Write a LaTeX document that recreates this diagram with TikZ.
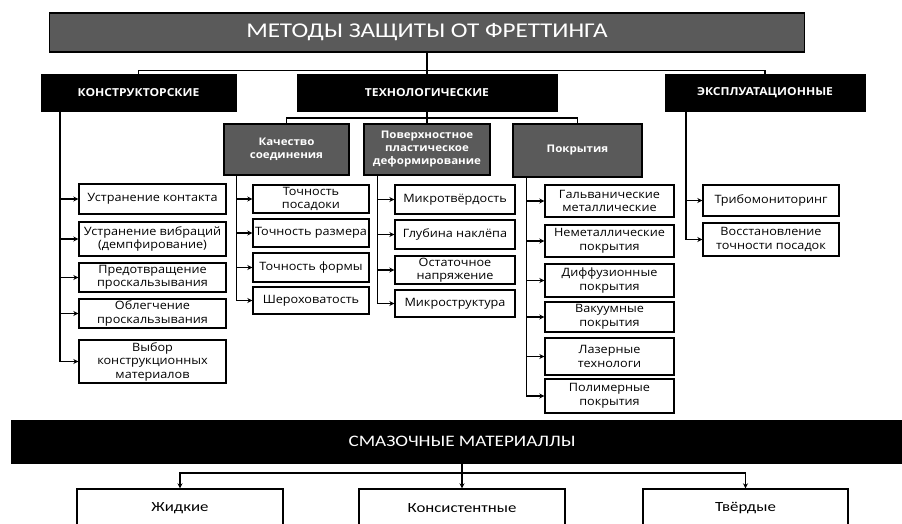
\documentclass[tikz,border=0pt]{standalone}
\usepackage{fontspec}
\setmainfont[FakeStretch=1.1]{Open Sans}
\newfontfamily\capfont[FakeStretch=1.2]{Carlito}
\usepackage{tikz}
\usetikzlibrary{arrows.meta,positioning,calc}
\definecolor{hdgray}{HTML}{5A5A5A}

\begin{document}
\begin{tikzpicture}[x=1pt, y=-1pt,
    title/.style={draw, line width=1.2pt, fill=hdgray, text=white, inner sep=0pt, font=\capfont\fontsize{21}{24}\selectfont},
    head/.style={draw, fill=black, text=white, inner sep=0pt, minimum height=37pt, font=\bfseries\fontsize{11}{13}\selectfont},
    sub/.style={draw, line width=1.2pt, fill=hdgray, text=white, align=center, inner sep=0pt, minimum height=51pt, font=\bfseries\fontsize{10.5}{13}\selectfont},
    leaf/.style={draw, line width=1.4pt, fill=white, align=center, inner sep=0pt, font=\fontsize{11.5}{13.5}\selectfont},
    lube/.style={draw, line width=1.4pt, fill=white, inner sep=0pt, minimum width=206pt, minimum height=38pt, font=\capfont\fontsize{14}{16}\selectfont},
    conn/.style={line width=1.5pt},
    arr/.style={-{Stealth[length=5pt,width=5pt]}, line width=1.5pt}
]
\useasboundingbox (0,0) rectangle (902,524);

% заголовок и три группы
\node[title, minimum width=755pt, minimum height=39pt] (title) at (427,32.5) {МЕТОДЫ ЗАЩИТЫ ОТ ФРЕТТИНГА};
\node[head, minimum width=195pt] (kon) at (138.5,93) {КОНСТРУКТОРСКИЕ};
\node[head, minimum width=260pt] (tech) at (427,92.5) {ТЕХНОЛОГИЧЕСКИЕ};
\node[head, minimum width=200pt] (expl) at (765,92.5) {ЭКСПЛУАТАЦИОННЫЕ};

\node[sub, minimum width=125pt] (kach) at (286.5,149.5) {Качество\\соединения};
\node[sub, minimum width=126pt] (pov) at (427,149.5) {Поверхностное\\пластическое\\деформирование};
\node[sub, minimum width=129pt, minimum height=53pt] (pokr) at (577.5,150.5) {Покрытия};

% конструкторские
\node[leaf, minimum width=147pt, minimum height=30pt] (k1) at (152.5,199) {Устранение контакта};
\node[leaf, minimum width=147pt, minimum height=34pt] (k2) at (152.5,239) {Устранение вибраций\\(демпфирование)};
\node[leaf, minimum width=147pt, minimum height=29pt] (k3) at (152.5,277.5) {Предотвращение\\проскальзывания};
\node[leaf, minimum width=147pt, minimum height=29pt] (k4) at (152.5,313.5) {Облегчение\\проскальзывания};
\node[leaf, minimum width=147pt, minimum height=43pt] (k5) at (152.5,361.5) {Выбор\\конструкционных\\материалов};

% качество соединения
\node[leaf, minimum width=116pt, minimum height=28pt] (q1) at (311,199) {Точность\\посадоки};
\node[leaf, minimum width=116pt, minimum height=28pt] (q2) at (311,233) {Точность размера};
\node[leaf, minimum width=116pt, minimum height=29pt] (q3) at (311,267.5) {Точность формы};
\node[leaf, minimum width=116pt, minimum height=27pt] (q4) at (311,300.5) {Шероховатость};

% поверхностное деформирование
\node[leaf, minimum width=120pt, minimum height=29pt] (p1) at (455,199.5) {Микротвёрдость};
\node[leaf, minimum width=120pt, minimum height=29pt] (p2) at (455,234.5) {Глубина наклёпа};
\node[leaf, minimum width=120pt, minimum height=28pt] (p3) at (455,270) {Остаточное\\напряжение};
\node[leaf, minimum width=120pt, minimum height=27pt] (p4) at (455,303.5) {Микроструктура};

% покрытия
\node[leaf, minimum width=129pt, minimum height=32pt] (c1) at (609.5,201) {Гальванические\\металлические};
\node[leaf, minimum width=129pt, minimum height=32pt] (c2) at (609.5,241) {Неметаллические\\покрытия};
\node[leaf, minimum width=129pt, minimum height=33pt] (c3) at (609.5,280.5) {Диффузионные\\покрытия};
\node[leaf, minimum width=129pt, minimum height=30pt] (c4) at (609.5,317) {Вакуумные\\покрытия};
\node[leaf, minimum width=129pt, minimum height=37pt] (c5) at (609.5,356.5) {Лазерные\\технологи};
\node[leaf, minimum width=129pt, minimum height=34pt] (c6) at (609.5,396) {Полимерные\\покрытия};

% эксплуатационные
\node[leaf, minimum width=136pt, minimum height=31pt] (e1) at (771,200.5) {Трибомониторинг};
\node[leaf, minimum width=136pt, minimum height=33pt] (e2) at (771,239.5) {Восстановление\\точности посадок};

% смазочные материалы
\node[draw, fill=black, text=white, inner sep=0pt, minimum width=894pt, minimum height=43pt, font=\capfont\fontsize{16}{19}\selectfont] (bar) at (458,441.5) {\hspace*{8pt}СМАЗОЧНЫЕ МАТЕРИАЛЛЫ};
\node[lube] (liq) at (180,508) {Жидкие};
\node[lube] (cons) at (462,508) {Консистентные};
\node[lube, minimum width=205pt] (solid) at (745.5,508) {Твёрдые};

% связи
\draw[conn] (title.south) -- (tech.north);
\draw[conn] (title.south) ++(0,18) -| (kon.north);
\draw[conn] (title.south) ++(0,18) -| (expl.north);
\draw[conn] (tech.south) -- (pov.north);
\draw[conn] (tech.south) ++(0,7) -| (kach.north);
\draw[conn] (tech.south) ++(0,7) -| (pokr.north);

\draw[arr] ([xshift=19pt]kon.south west) |- (k1.west);
\draw[arr] ([xshift=19pt]kon.south west) |- (k2.west);
\draw[arr] ([xshift=19pt]kon.south west) |- (k3.west);
\draw[arr] ([xshift=19pt]kon.south west) |- (k4.west);
\draw[arr] ([xshift=19pt]kon.south west) |- (k5.west);

\draw[arr] ([xshift=13pt]kach.south west) |- (q1.west);
\draw[arr] ([xshift=13pt]kach.south west) |- (q2.west);
\draw[arr] ([xshift=13pt]kach.south west) |- (q3.west);
\draw[arr] ([xshift=13pt]kach.south west) |- (q4.west);

\draw[arr] ([xshift=14pt]pov.south west) |- (p1.west);
\draw[arr] ([xshift=14pt]pov.south west) |- (p2.west);
\draw[arr] ([xshift=14pt]pov.south west) |- (p3.west);
\draw[arr] ([xshift=14pt]pov.south west) |- (p4.west);

\draw[arr] ([xshift=14pt]pokr.south west) |- (c1.west);
\draw[arr] ([xshift=14pt]pokr.south west) |- (c2.west);
\draw[arr] ([xshift=14pt]pokr.south west) |- (c3.west);
\draw[arr] ([xshift=14pt]pokr.south west) |- (c4.west);
\draw[arr] ([xshift=14pt]pokr.south west) |- (c5.west);
\draw[arr] ([xshift=14pt]pokr.south west) |- (c6.west);

\draw[arr] ([xshift=21pt]expl.south west) |- (e1.west);
\draw[arr] ([xshift=21pt]expl.south west) |- (e2.west);

\draw[arr] (cons.north |- bar.south) -- (cons.north);
\draw[arr] (cons.north |- bar.south) ++(0,10) -| (liq.north);
\draw[arr] (cons.north |- bar.south) ++(0,10) -| (solid.north);
\end{tikzpicture}
\end{document}
